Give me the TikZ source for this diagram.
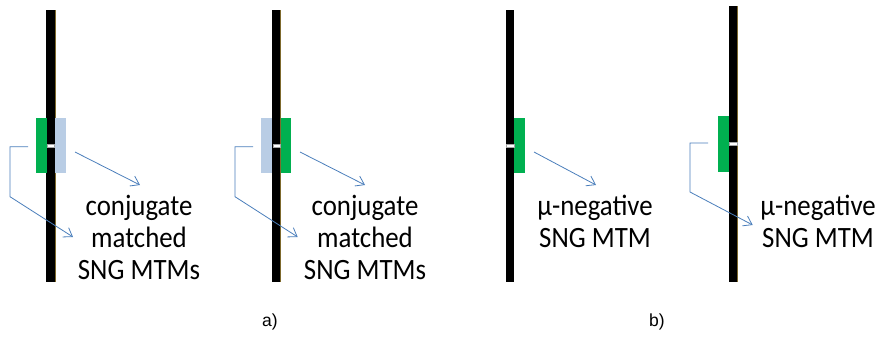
\documentclass[tikz,border=0pt]{standalone}
\usepackage{fontspec}
\setmainfont{Carlito}
\newfontfamily\captionfont[FakeStretch=0.91]{Carlito}
\newfontfamily\capfont{Liberation Sans}
\usetikzlibrary{arrows.meta}
\definecolor{ringgreen}{RGB}{0,176,80}
\definecolor{ringblue}{RGB}{185,205,229}
\definecolor{leader}{RGB}{74,126,187}
\definecolor{rimolive}{RGB}{125,105,45}
\tikzset{
  rod/.style={fill=black},
  rim/.style={draw=rimolive, line width=0.8pt},
  slit/.style={fill=white, draw=gray!70, line width=0.3pt},
  greenring/.style={fill=ringgreen},
  bluering/.style={fill=ringblue},
  leaderline/.style={draw=leader, line width=0.8pt,
    -{Straight Barb[length=8pt,width=11pt,line width=0.8pt]}},
  caption/.style={align=center, inner sep=0pt, anchor=base,
    font=\captionfont\fontsize{29.5}{32}\selectfont},
  panelname/.style={inner sep=0pt, font=\capfont\fontsize{17.5}{20}\selectfont}
}
\begin{document}
\begin{tikzpicture}[x=1pt,y=-1pt]
\useasboundingbox (0,0) rectangle (880,338);

% ---- panel 1: green ring left, blue ring right
\fill[rod] (46,10) rectangle (55,282);
\draw[rim] (55,10) -- (55,282);
\fill[greenring] (36,118) rectangle (46.5,172.5);
\fill[bluering] (55.3,118) rectangle (65.7,172.5);
\filldraw[slit] (46.8,144.3) rectangle (54.3,147.3);

% ---- panel 2: blue ring left, green ring right
\fill[rod] (272,10) rectangle (280.7,282);
\draw[rim] (280.7,10) -- (280.7,282);
\fill[bluering] (261,118) rectangle (272,172.5);
\fill[greenring] (281,118) rectangle (291,172.5);
\filldraw[slit] (272.8,144.3) rectangle (280.2,147.3);

% ---- panel 3: single green ring right
\fill[rod] (506,10) rectangle (514.3,282);
\fill[greenring] (514.3,118) rectangle (525,172.5);
\filldraw[slit] (506,144) rectangle (514,147);

% ---- panel 4: single green ring left
\fill[rod] (729,6) rectangle (737.3,282);
\draw[rim] (737.3,6) -- (737.3,282);
\fill[greenring] (717.7,116) rectangle (729,171.7);
\filldraw[slit] (729.5,142) rectangle (737,145);

% ---- captions (anchored on the baseline of the last line)
\node[caption] (c1) at (139,279) {conjugate\\matched\\SNG MTMs};
\node[caption] (c2) at (365,279) {conjugate\\matched\\SNG MTMs};
\node[caption] (c3) at (595,247) {μ-negative\\SNG MTM};
\node[caption] (c4) at (818,247) {μ-negative\\SNG MTM};

% ---- leader arrows
\coordinate (a1s) at (75,152);   \coordinate (a1e) at (140,185);
\coordinate (b1s) at (28,146.7); \coordinate (b1c) at (10,146.7);
\coordinate (b1d) at (10,196.7); \coordinate (b1e) at (73,237);
\draw[leaderline] (a1s) -- (a1e);
\draw[leaderline] (b1s) -- (b1c) -- (b1d) -- (b1e);

\coordinate (a2s) at (300,152);  \coordinate (a2e) at (365,185);
\coordinate (b2s) at (253,146.7);\coordinate (b2c) at (235,146.7);
\coordinate (b2d) at (235,196.7);\coordinate (b2e) at (297.7,237);
\draw[leaderline] (a2s) -- (a2e);
\draw[leaderline] (b2s) -- (b2c) -- (b2d) -- (b2e);

\coordinate (a3s) at (534,152);  \coordinate (a3e) at (596,185);
\draw[leaderline] (a3s) -- (a3e);

\coordinate (b4s) at (708,143);  \coordinate (b4c) at (690,143);
\coordinate (b4d) at (690,192);  \coordinate (b4e) at (752.7,225);
\draw[leaderline] (b4s) -- (b4c) -- (b4d) -- (b4e);

% ---- panel names
\node[panelname] (pa) at (270,322) {a)};
\node[panelname] (pb) at (657,322) {b)};
\end{tikzpicture}
\end{document}
